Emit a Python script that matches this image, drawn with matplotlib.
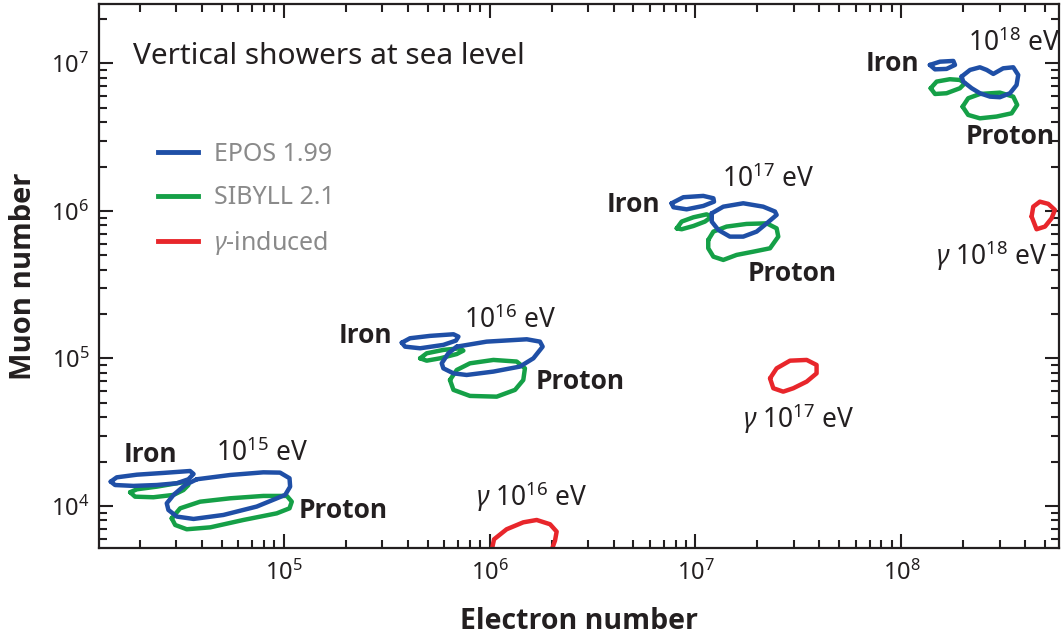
import numpy as np
import matplotlib
matplotlib.use("Agg")
import matplotlib.pyplot as plt
from matplotlib.lines import Line2D

plt.rcParams['font.family'] = ['Noto Sans', 'DejaVu Sans']
plt.rcParams['mathtext.fontset'] = 'custom'
plt.rcParams['mathtext.rm'] = 'Noto Sans'
plt.rcParams['mathtext.it'] = 'Noto Sans:italic'
plt.rcParams['mathtext.bf'] = 'Noto Sans:bold'

# contour outlines, (log10 electron number, log10 muon number)
epos_fe15 = [(4.161, 4.165), (4.190, 4.194), (4.288, 4.212), (4.417, 4.224), (4.546, 4.237), (4.563, 4.217),
             (4.538, 4.181), (4.482, 4.154), (4.385, 4.142), (4.271, 4.136), (4.182, 4.142)]
epos_p15 = [(4.579, 4.181), (4.741, 4.210), (4.902, 4.228), (4.983, 4.226), (5.029, 4.188), (5.032, 4.131),
            (5.008, 4.075), (4.870, 3.996), (4.708, 3.939), (4.563, 3.912), (4.482, 3.928), (4.441, 3.973),
            (4.433, 4.018), (4.466, 4.075), (4.522, 4.142)]
sib_fe15 = [(4.255, 4.093), (4.288, 4.113), (4.385, 4.131), (4.482, 4.154), (4.530, 4.165), (4.538, 4.142),
            (4.514, 4.108), (4.466, 4.075), (4.368, 4.059), (4.279, 4.063)]
sib_p15 = [(4.457, 3.916), (4.498, 3.984), (4.595, 4.029), (4.741, 4.052), (4.902, 4.068), (5.016, 4.068),
           (5.040, 4.029), (5.029, 3.984), (4.967, 3.950), (4.805, 3.905), (4.644, 3.855), (4.530, 3.842),
           (4.474, 3.871)]

epos_fe16 = [(5.574, 5.107), (5.614, 5.137), (5.711, 5.153), (5.825, 5.164), (5.849, 5.148), (5.837, 5.121),
             (5.776, 5.092), (5.663, 5.069), (5.590, 5.080)]
epos_p16 = [(5.841, 5.080), (5.986, 5.114), (6.181, 5.130), (6.245, 5.114), (6.258, 5.080), (6.213, 5.001),
            (6.148, 4.945), (6.019, 4.911), (5.889, 4.888), (5.825, 4.899), (5.776, 4.933), (5.768, 4.967),
            (5.800, 5.035)]
sib_fe16 = [(5.663, 5.001), (5.695, 5.035), (5.776, 5.058), (5.857, 5.069), (5.873, 5.053), (5.841, 5.030),
            (5.760, 5.001), (5.695, 4.985)]
sib_p16 = [(5.808, 4.854), (5.841, 4.922), (5.905, 4.967), (6.019, 4.990), (6.132, 4.979), (6.172, 4.933),
           (6.164, 4.854), (6.124, 4.787), (6.035, 4.741), (5.905, 4.746), (5.825, 4.787)]

epos_fe17 = [(6.884, 6.052), (6.941, 6.093), (7.038, 6.102), (7.087, 6.086), (7.090, 6.063), (7.038, 6.034),
             (6.957, 6.011), (6.893, 6.025)]
epos_p17 = [(7.079, 5.984), (7.135, 6.029), (7.232, 6.052), (7.329, 6.029), (7.386, 5.996), (7.394, 5.973),
            (7.346, 5.916), (7.297, 5.860), (7.232, 5.826), (7.167, 5.826), (7.111, 5.871), (7.079, 5.928)]
sib_fe17 = [(6.909, 5.882), (6.933, 5.928), (6.990, 5.957), (7.054, 5.977), (7.079, 5.962), (7.046, 5.928),
            (6.990, 5.898), (6.933, 5.876)]
sib_p17 = [(7.062, 5.803), (7.087, 5.860), (7.151, 5.894), (7.248, 5.912), (7.346, 5.916), (7.394, 5.882),
           (7.402, 5.826), (7.362, 5.747), (7.281, 5.724), (7.200, 5.702), (7.135, 5.668), (7.087, 5.690),
           (7.062, 5.747)]

epos_fe18 = [(8.138, 6.990), (8.187, 7.012), (8.252, 7.017), (8.260, 6.990), (8.219, 6.963), (8.163, 6.960)]
epos_p18 = [(8.292, 6.911), (8.333, 6.956), (8.381, 6.974), (8.414, 6.956), (8.446, 6.929), (8.494, 6.967),
            (8.543, 6.974), (8.567, 6.922), (8.559, 6.854), (8.527, 6.798), (8.478, 6.771), (8.430, 6.775),
            (8.381, 6.798), (8.341, 6.832), (8.300, 6.877)]
sib_fe18 = [(8.142, 6.832), (8.171, 6.877), (8.235, 6.893), (8.284, 6.888), (8.308, 6.866), (8.284, 6.832),
            (8.219, 6.798), (8.163, 6.793)]
sib_p18 = [(8.297, 6.707), (8.324, 6.764), (8.381, 6.793), (8.478, 6.802), (8.543, 6.775), (8.562, 6.719),
           (8.535, 6.662), (8.462, 6.640), (8.381, 6.628), (8.324, 6.651)]

gam16 = [(6.011, 3.702), (6.022, 3.774), (6.083, 3.842), (6.164, 3.889), (6.229, 3.905), (6.294, 3.876),
         (6.326, 3.826), (6.318, 3.765), (6.302, 3.702), (6.277, 3.589), (6.035, 3.589)]
gam17 = [(7.362, 4.865), (7.394, 4.933), (7.459, 4.985), (7.540, 4.990), (7.588, 4.956), (7.588, 4.899),
         (7.540, 4.843), (7.475, 4.798), (7.426, 4.775), (7.378, 4.798)]
gam18 = [(8.632, 5.962), (8.640, 6.029), (8.672, 6.063), (8.713, 6.048), (8.745, 6.007), (8.729, 5.950),
         (8.697, 5.894), (8.656, 5.876)]

blue = '#1f4fa6'
green = '#15a047'
red = '#e8262b'
ink = '#231f20'
boldfont = ['Open Sans', 'DejaVu Sans']

fig = plt.figure(figsize=(10.62, 6.36), dpi=100)
ax = fig.add_axes([99/1062, 88/636, 960/1062, 544/636])

def outline(pts, col):
    a = np.array(pts + [pts[0]])
    ax.plot(10**a[:, 0], 10**a[:, 1], color=col, lw=3.2,
            solid_joinstyle='round', solid_capstyle='round')

for c in [sib_fe15, sib_p15, sib_fe16, sib_p16, sib_fe17, sib_p17, sib_fe18, sib_p18]:
    outline(c, green)
for c in [epos_fe15, epos_p15, epos_fe16, epos_p16, epos_fe17, epos_p17, epos_fe18, epos_p18]:
    outline(c, blue)
for c in [gam16, gam17, gam18]:
    outline(c, red)

ax.set_xscale('log')
ax.set_yscale('log')
ax.set_xlim(10**4.104, 10**8.765)
ax.set_ylim(10**3.715, 10**7.403)

ax.tick_params(which='both', direction='in', top=True, right=True, color=ink, width=1.5,
               labelsize=17, labelcolor=ink)
ax.tick_params(which='major', length=10)
ax.tick_params(axis='x', which='major', pad=9)
ax.tick_params(axis='y', which='major', pad=7)
ax.tick_params(which='minor', length=5.5)
for s in ax.spines.values():
    s.set_linewidth(1.6)
    s.set_color(ink)

ax.set_xlabel('Electron number', fontsize=20.5, fontweight='bold', family=boldfont, color=ink, labelpad=15)
ax.set_ylabel('Muon number', fontsize=21, fontweight='bold', family=boldfont, color=ink)
ax.yaxis.set_label_coords(-0.064, 0.5)

ax.text(0.035, 0.904, 'Vertical showers at sea level', transform=ax.transAxes,
        fontsize=21.5, color=ink, va='center', ha='left')

bold = dict(fontsize=19, fontweight='bold', family=boldfont, color=ink, ha='center', va='center')
norm = dict(fontsize=19, color=ink, ha='center', va='center')

ax.text(10**4.352, 10**4.346, 'Iron', **bold)
ax.text(10**4.896, 10**4.353, r'$10^{15}$ eV', **norm)
ax.text(10**5.289, 10**3.966, 'Proton', **bold)
ax.text(10**5.396, 10**5.153, 'Iron', **bold)
ax.text(10**6.100, 10**5.254, r'$10^{16}$ eV', **norm)
ax.text(10**6.439, 10**4.841, 'Proton', **bold)
ax.text(10**6.701, 10**6.047, 'Iron', **bold)
ax.text(10**7.352, 10**6.210, r'$10^{17}$ eV', **norm)
ax.text(10**7.468, 10**5.573, 'Proton', **bold)
ax.text(10**7.954, 10**7.003, 'Iron', **bold)
ax.text(10**8.546, 10**7.132, r'$10^{18}$ eV', **norm)
ax.text(10**8.527, 10**6.502, 'Proton', **bold)
ax.text(10**6.206, 10**4.061, r'$\gamma$ $10^{16}$ eV', **norm)
ax.text(10**7.502, 10**4.590, r'$\gamma$ $10^{17}$ eV', **norm)
ax.text(10**8.439, 10**5.695, r'$\gamma$ $10^{18}$ eV', **norm)

handles = [Line2D([], [], color=blue, lw=3.5),
           Line2D([], [], color=green, lw=3.5),
           Line2D([], [], color=red, lw=3.5)]
ax.legend(handles, ['EPOS 1.99', 'SIBYLL 2.1', r'$\gamma$-induced'], loc='upper left',
          bbox_to_anchor=(0.0615, 0.746), frameon=False, fontsize=18, labelcolor='#8a8a8a',
          handlelength=1.6, handletextpad=0.65, labelspacing=0.73, borderpad=0, borderaxespad=0)

fig.savefig('out.png', dpi=100)
